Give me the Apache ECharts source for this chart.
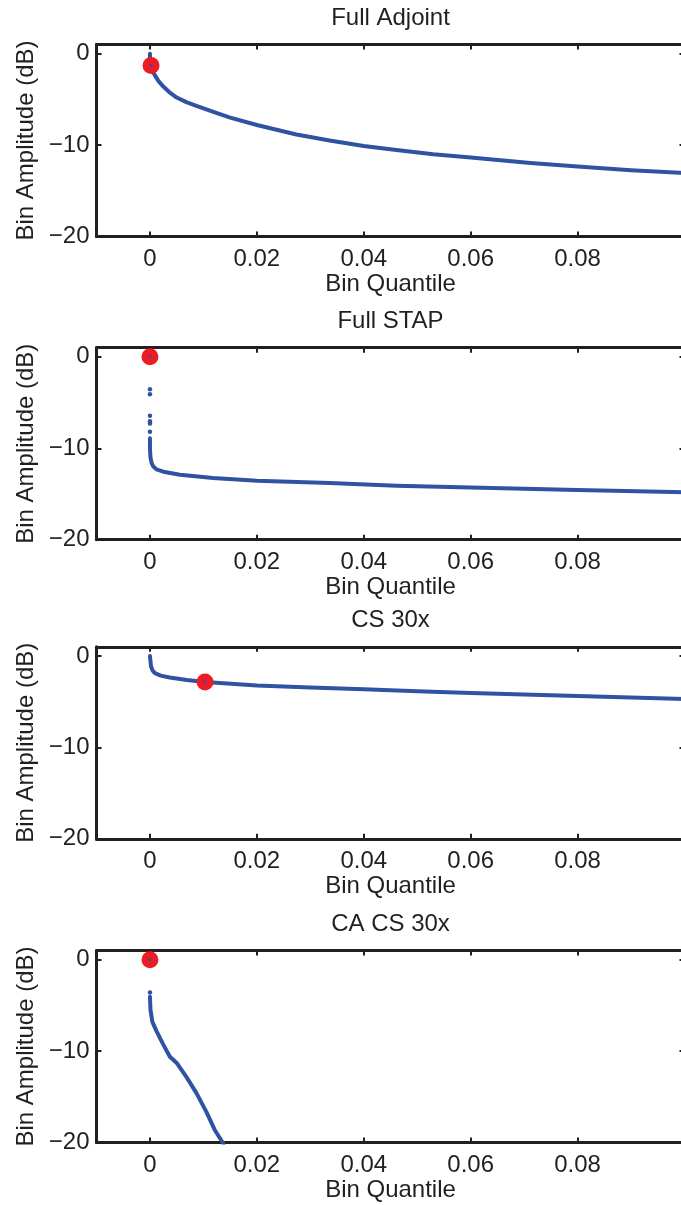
<!DOCTYPE html>
<html>
<head>
<meta charset="utf-8">
<script src="https://cdn.jsdelivr.net/npm/echarts@6/dist/echarts.min.js"></script>
<style>
  html, body { margin: 0; padding: 0; background: #ffffff; overflow: hidden; }
  #main { width: 700px; height: 1205px; }
</style>
</head>
<body>
<div id="main"></div>
<script>
// ---------------- data ----------------
const titles = ['Full Adjoint', 'Full STAP', 'CS 30x', 'CA CS 30x'];
const xTickValues = [0, 0.02, 0.04, 0.06, 0.08, 0.1];
const xLabelValues = [0, 0.02, 0.04, 0.06, 0.08];
const yTickValues = [-20, -10, 0];

// Full Adjoint
const adjointX = [0, 0, 0.0002, 0.0005, 0.0009, 0.0016, 0.0025, 0.0036, 0.005, 0.0068, 0.0087, 0.012, 0.015, 0.02, 0.0274, 0.0336, 0.04, 0.0461, 0.053, 0.06, 0.0712, 0.08, 0.09, 0.1];
const adjointY = [0, -0.8, -1.35, -1.9, -2.35, -3.0, -3.6, -4.2, -4.8, -5.3, -5.7, -6.4, -7.0, -7.8, -8.85, -9.5, -10.1, -10.55, -11.0, -11.36, -11.95, -12.35, -12.75, -13.05];
const adjointMarkX = [0.0002];
const adjointMarkY = [-1.3];

// Full STAP
const stapDotsX = [0, 0, 0, 0, 0, 0];
const stapDotsY = [-3.55, -4.1, -6.45, -7.05, -7.3, -8.2];
const stapX = [0, 0, 0.0001, 0.0003, 0.00063, 0.0012, 0.0025, 0.0056, 0.0118, 0.02, 0.0336, 0.0461, 0.06, 0.08, 0.1];
const stapY = [-8.9, -10.0, -11.0, -11.6, -12.0, -12.3, -12.56, -12.9, -13.25, -13.55, -13.8, -14.1, -14.3, -14.57, -14.8];
const stapMarkX = [0];
const stapMarkY = [0];

// CS 30x
const csX = [0, 0.0001, 0.0002, 0.0005, 0.00093, 0.002, 0.0037, 0.0069, 0.0103, 0.02, 0.03, 0.04, 0.05, 0.06, 0.08, 0.1];
const csY = [0, -0.6, -1.16, -1.6, -1.88, -2.15, -2.36, -2.64, -2.86, -3.23, -3.45, -3.65, -3.85, -4.05, -4.38, -4.7];
const csMarkX = [0.0103];
const csMarkY = [-2.86];

// CA CS 30x
const caDotsX = [0];
const caDotsY = [-3.6];
const caX = [0, 0.00005, 0.0001, 0.00045, 0.00125, 0.0025, 0.0037, 0.005, 0.0069, 0.0087, 0.0106, 0.0121, 0.0136, 0.0138];
const caY = [-4.06, -4.8, -5.5, -6.8, -7.85, -9.3, -10.6, -11.3, -12.9, -14.6, -16.7, -18.6, -20, -20.3];
const caMarkX = [0];
const caMarkY = [0];

// ---------------- build ----------------
const BLACK = '#231f20';
const BLUE = '#3052a3';
const RED = '#ed1c24';
const FONT = '"Liberation Sans", Arial, Helvetica, sans-serif';
const gridTops = [44.5, 347.7, 646.8, 950.5];
const GRID_LEFT = 96.5, GRID_W = 588, GRID_H = 192;

const zip = (xs, ys) => xs.map((x, i) => [x, ys[i]]);
const fmtY = v => (v < 0 ? '\u2212' + Math.abs(v) : String(v));

const panels = [
  { line: zip(adjointX, adjointY), dots: [], mark: zip(adjointMarkX, adjointMarkY) },
  { line: zip(stapX, stapY), dots: zip(stapDotsX, stapDotsY), mark: zip(stapMarkX, stapMarkY) },
  { line: zip(csX, csY), dots: [], mark: zip(csMarkX, csMarkY) },
  { line: zip(caX, caY), dots: zip(caDotsX, caDotsY), mark: zip(caMarkX, caMarkY) }
];

const grid = [], xAxis = [], yAxis = [], series = [], title = [];
const lineStyleAxis = { color: BLACK, width: 3 };
const tickStyle = { color: BLACK, width: 2 };

panels.forEach((p, i) => {
  const top = gridTops[i];
  grid.push({ left: GRID_LEFT, top: top, width: GRID_W, height: GRID_H, containLabel: false });
  title.push({
    text: titles[i], left: GRID_LEFT + GRID_W / 2, top: top - 38, textAlign: 'center', padding: 0,
    textStyle: { fontSize: 24, fontWeight: 'normal', color: BLACK, fontFamily: FONT }
  });
  xAxis.push({
    type: 'value', gridIndex: i, position: 'bottom', min: -0.01, max: 0.1,
    axisLine: { show: true, onZero: false, lineStyle: lineStyleAxis },
    axisTick: { show: true, inside: true, length: 5, lineStyle: tickStyle, customValues: xTickValues },
    axisLabel: { show: true, customValues: xLabelValues, fontSize: 24, color: BLACK, fontFamily: FONT, margin: 11 },
    splitLine: { show: false },
    name: 'Bin Quantile', nameLocation: 'middle', nameGap: 36,
    nameTextStyle: { fontSize: 24, color: BLACK, fontFamily: FONT }
  });
  xAxis.push({
    type: 'value', gridIndex: i, position: 'top', min: -0.01, max: 0.1,
    axisLine: { show: true, onZero: false, lineStyle: lineStyleAxis },
    axisTick: { show: true, inside: true, length: 5, lineStyle: tickStyle, customValues: xTickValues },
    axisLabel: { show: false },
    splitLine: { show: false }
  });
  yAxis.push({
    type: 'value', gridIndex: i, position: 'left', min: -20, max: 1,
    axisLine: { show: true, onZero: false, lineStyle: lineStyleAxis },
    axisTick: { show: true, inside: true, length: 5, lineStyle: tickStyle, customValues: yTickValues },
    axisLabel: { show: true, customValues: yTickValues, fontSize: 24, color: BLACK, fontFamily: FONT, margin: 7, formatter: fmtY },
    splitLine: { show: false },
    name: 'Bin Amplitude (dB)', nameLocation: 'middle', nameGap: 58, nameRotate: 90,
    nameTextStyle: { fontSize: 24, color: BLACK, fontFamily: FONT }
  });
  yAxis.push({
    type: 'value', gridIndex: i, position: 'right', min: -20, max: 1,
    axisLine: { show: true, onZero: false, lineStyle: lineStyleAxis },
    axisTick: { show: true, inside: true, length: 5, lineStyle: tickStyle, customValues: yTickValues },
    axisLabel: { show: false },
    splitLine: { show: false }
  });
  const xi = i * 2, yi = i * 2;
  series.push({
    type: 'line', xAxisIndex: xi, yAxisIndex: yi, data: p.line, showSymbol: false,
    lineStyle: { color: BLUE, width: 4, cap: 'round', join: 'round' }, z: 2, silent: true
  });
  if (p.dots.length) {
    series.push({
      type: 'scatter', xAxisIndex: xi, yAxisIndex: yi, data: p.dots, symbol: 'circle', symbolSize: 4.5,
      itemStyle: { color: BLUE, opacity: 1 }, z: 2, silent: true
    });
  }
  series.push({
    type: 'scatter', xAxisIndex: xi, yAxisIndex: yi, data: p.mark, symbol: 'circle', symbolSize: 17,
    itemStyle: { color: RED, opacity: 1 }, z: 3, silent: true
  });
  series.push({
    type: 'scatter', xAxisIndex: xi, yAxisIndex: yi, data: p.mark, symbol: 'circle', symbolSize: 3,
    itemStyle: { color: BLUE, opacity: 1 }, z: 4, silent: true
  });
});

const chart = echarts.init(document.getElementById('main'), null, { renderer: 'canvas' });
chart.setOption({
  animation: false,
  backgroundColor: '#ffffff',
  title: title,
  grid: grid,
  xAxis: xAxis,
  yAxis: yAxis,
  series: series
});
</script>
</body>
</html>
